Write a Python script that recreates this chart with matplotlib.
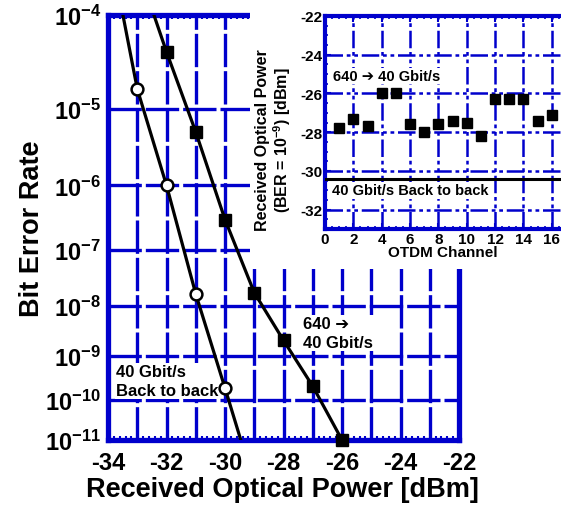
# BER curves with inset of receiver sensitivity per OTDM channel

import numpy as np
import matplotlib
matplotlib.use('Agg')
import matplotlib.pyplot as plt
from matplotlib import font_manager
from matplotlib.ticker import MultipleLocator, NullLocator, FixedLocator
from matplotlib.patches import Rectangle

# Data
b2b_power = [-33, -32, -31, -30]
b2b_ber = [1.7e-5, 1.0e-6, 1.7e-8, 1.9e-10]
b2b_fit_power = [-33.49, -33, -32, -31, -30, -29.46]
b2b_fit_ber = [1e-4, 1.7e-5, 1.0e-6, 1.7e-8, 1.9e-10, 1e-11]

demux_power = [-32, -31, -30, -29, -28, -27, -26]
demux_ber = [4.3e-5, 5.2e-6, 3.1e-7, 1.8e-8, 2.1e-9, 2.1e-10, 1e-11]
demux_fit_power = [-32.43, -32, -31, -30, -29, -28, -27, -26]
demux_fit_ber = [1e-4, 4.3e-5, 5.2e-6, 3.1e-7, 1.8e-8, 2.1e-9, 2.1e-10, 1e-11]

x_ticks = list(range(-34, -21))
x_labels = ['-34', '', '-32', '', '-30', '', '-28', '', '-26', '', '-24', '', '-22']
y_ticks = [1e-4, 1e-5, 1e-6, 1e-7, 1e-8, 1e-9, 1e-10, 1e-11]
y_labels = [r'$\mathbf{10^{-%d}}$' % n for n in range(4, 12)]

channels = list(range(1, 17))
sensitivity = [-27.8, -27.3, -27.7, -26.0, -26.0, -27.6, -28.0, -27.6,
               -27.4, -27.5, -28.2, -26.3, -26.3, -26.3, -27.4, -27.1]
b2b_sensitivity = -30.4

blue = '#0000cc'
arrow = '\u2794'

plt.rcParams['font.family'] = ['Liberation Sans', 'DejaVu Sans']
plt.rcParams['font.weight'] = 'bold'
plt.rcParams['mathtext.fontset'] = 'custom'
plt.rcParams['mathtext.rm'] = 'Liberation Sans:bold'
plt.rcParams['mathtext.bf'] = 'Liberation Sans:bold'
plt.rcParams['axes.unicode_minus'] = False

names = {f.name for f in font_manager.fontManager.ttflist}
narrow = 'Liberation Sans Narrow' if 'Liberation Sans Narrow' in names else 'Liberation Sans'


# BER axis: -log10(-log10(BER)) so that curves come out straight
def ber_fwd(b):
    b = np.clip(np.asarray(b, dtype=float), 1e-300, 0.999)
    return -np.log10(-np.log10(b))


def ber_inv(v):
    return 10.0 ** (-(10.0 ** (-np.asarray(v, dtype=float))))


fig = plt.figure(figsize=(5.61, 5.06), dpi=100)

# main plot
ax = fig.add_axes([108/561, 1 - 441/506, 351/561, 425/506])
ax.set_zorder(0)
ax.set_yscale('function', functions=(ber_fwd, ber_inv))
ax.set_xlim(-34, -22)
ax.set_ylim(1e-11, 1e-4)

ax.plot(b2b_fit_power, b2b_fit_ber, color='black', lw=2.3, zorder=3)
ax.plot(demux_fit_power, demux_fit_ber, color='black', lw=2.3, zorder=3)
ax.plot(b2b_power, b2b_ber, 'o', ms=8.5, mfc='white', mec='black', mew=1.8,
        zorder=4, clip_on=False)
ax.plot(demux_power, demux_ber, 's', ms=8.5, color='black', zorder=4, clip_on=False)

ax.xaxis.set_major_locator(FixedLocator(x_ticks))
ax.set_xticklabels(x_labels)
ax.xaxis.set_minor_locator(MultipleLocator(0.2))
ax.yaxis.set_major_locator(FixedLocator(y_ticks))
ax.set_yticklabels(y_labels)
ax.yaxis.set_minor_locator(NullLocator())

ax.tick_params(which='both', direction='in', color=blue, top=True, right=True,
               labelsize=17)
ax.tick_params(which='major', length=6, width=2)
ax.tick_params(which='minor', length=3, width=1.5)
ax.tick_params(axis='x', pad=8)
ax.tick_params(axis='y', pad=5)
for sp in ax.spines.values():
    sp.set_color(blue)
    sp.set_linewidth(3.8)
ax.grid(True, which='major', color=blue, lw=2.4, ls=(0, (10, 1.2)))

ax.set_xlabel('Received Optical Power [dBm]', fontsize=19.5, fontweight='bold')
ax.set_ylabel('Bit Error Rate', fontsize=19.5, fontweight='bold')
ax.xaxis.set_label_coords(0.496, -0.085)
ax.yaxis.set_label_coords(-0.18, 0.5)

ax.text(-33.73, 2.8e-10, '40 Gbit/s\nBack to back', fontsize=12, fontweight='bold',
        ha='left', va='center', linespacing=1.3,
        bbox=dict(facecolor='white', edgecolor='none', pad=1), zorder=2.5)
ax.text(-27.34, 3.0e-9, '640 ' + arrow + '\n40 Gbit/s', fontsize=12,
        fontweight='bold', ha='left', va='center', linespacing=1.3,
        bbox=dict(facecolor='white', edgecolor='none', pad=1), zorder=2.5)

# white area behind the inset
cover = Rectangle((250/561, 1 - 270/506), 1 - 250/561, 270/506,
                  transform=fig.transFigure, facecolor='white', edgecolor='none',
                  zorder=1)
fig.add_artist(cover)

# inset
ins = fig.add_axes([325/561, 1 - 230/506, 236/561, 213/506])
ins.set_zorder(2)
ins.set_xlim(0, 16.65)
ins.set_ylim(-33, -22)

ins.axhline(b2b_sensitivity, color='black', lw=2.2, zorder=3)
ins.plot(channels, sensitivity, 's', ms=6.5, color='black', zorder=4)

ins.xaxis.set_major_locator(MultipleLocator(2))
ins.xaxis.set_minor_locator(MultipleLocator(0.5))
ins.yaxis.set_major_locator(MultipleLocator(2))
ins.yaxis.set_minor_locator(MultipleLocator(0.5))
ins.tick_params(which='both', direction='in', color=blue, top=True, right=False,
                labelsize=11)
ins.tick_params(which='major', length=4, width=1.5, pad=2)
ins.tick_params(which='minor', length=2, width=1.2)
for lab in ins.get_xticklabels() + ins.get_yticklabels():
    lab.set_family(narrow)
    lab.set_fontweight('bold')
for name, sp in ins.spines.items():
    sp.set_color(blue)
    sp.set_linewidth(3)
ins.spines['right'].set_visible(False)
ins.grid(True, which='major', color=blue, lw=1.8,
         ls=(0, (7, 1.5, 1.5, 1.5, 1.5, 1.5)))

ins.set_xlabel('OTDM Channel', fontsize=11, fontweight='bold')
ins.set_ylabel('Received Optical Power\n(BER = $\\mathbf{10^{-9}}$) [dBm]',
               fontsize=11.5, fontweight='bold', linespacing=1.1)
ins.xaxis.set_label_coords(0.5, -0.075)
ins.yaxis.set_label_coords(-0.136, 0.42)

ins.text(0.56, -25.1, '640 ' + arrow + ' 40 Gbit/s', fontsize=10.5,
         fontweight='bold', ha='left', va='center',
         bbox=dict(facecolor='white', edgecolor='none', pad=1), zorder=2.5)
ins.text(0.47, -31.0, '40 Gbit/s Back to back', fontsize=10.5, fontweight='bold',
         ha='left', va='center',
         bbox=dict(facecolor='white', edgecolor='none', pad=1), zorder=2.5)

plt.savefig('out.png', dpi=100)
